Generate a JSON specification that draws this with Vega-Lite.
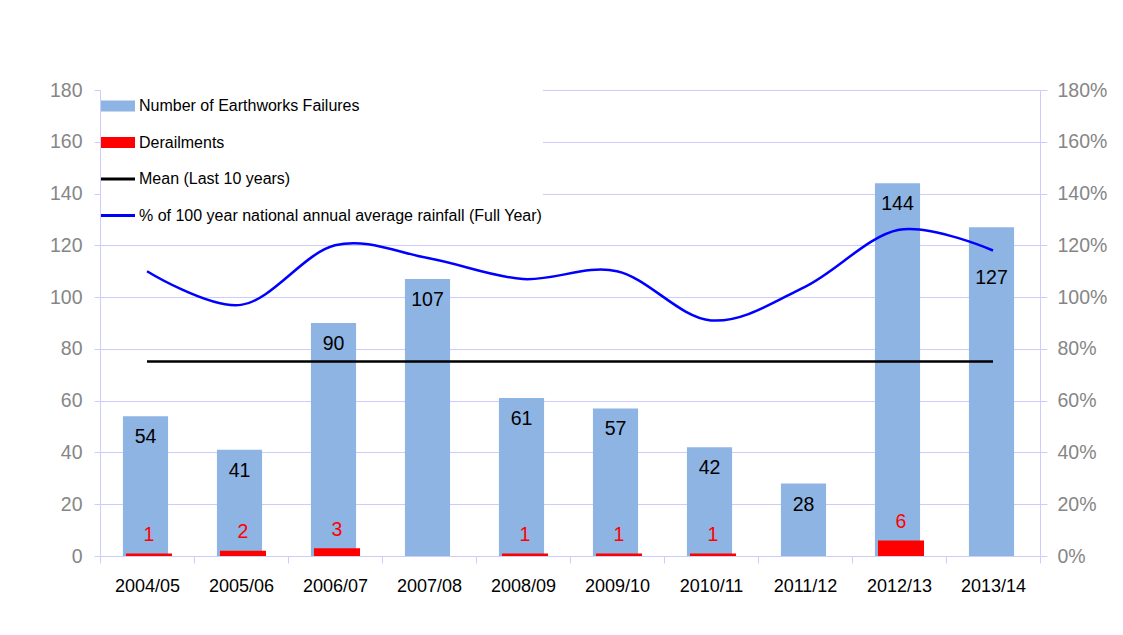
{
  "$schema": "https://vega.github.io/schema/vega-lite/v6.json",
  "autosize": {"type": "none"},
  "width": 940,
  "height": 466,
  "padding": {"left": 100, "top": 90, "right": 83, "bottom": 79},
  "background": "white",
  "config": {
    "view": {"stroke": null},
    "font": "Liberation Sans",
    "axisY": {
      "grid": true, "gridColor": "#ccccff", "domainColor": "#ccccff",
      "tickColor": "#ccccff", "tickSize": 6, "labelColor": "#868686",
      "labelFontSize": 19.5, "labelPadding": 12, "labelFont": "Liberation Sans", "title": null
    }
  },
  "data": {
    "values": [
      {"year": "2004/05", "failures": 54, "derailments": 1, "rainfall": 1.10, "mean": 75.1},
      {"year": "2005/06", "failures": 41, "derailments": 2, "rainfall": 0.97, "mean": 75.1},
      {"year": "2006/07", "failures": 90, "derailments": 3, "rainfall": 1.20, "mean": 75.1},
      {"year": "2007/08", "failures": 107, "derailments": 0, "rainfall": 1.15, "mean": 75.1},
      {"year": "2008/09", "failures": 61, "derailments": 1, "rainfall": 1.07, "mean": 75.1},
      {"year": "2009/10", "failures": 57, "derailments": 1, "rainfall": 1.10, "mean": 75.1},
      {"year": "2010/11", "failures": 42, "derailments": 1, "rainfall": 0.91, "mean": 75.1},
      {"year": "2011/12", "failures": 28, "derailments": 0, "rainfall": 1.04, "mean": 75.1},
      {"year": "2012/13", "failures": 144, "derailments": 6, "rainfall": 1.26, "mean": 75.1},
      {"year": "2013/14", "failures": 127, "derailments": 0, "rainfall": 1.18, "mean": 75.1}
    ]
  },
  "resolve": {"scale": {"y": "independent"}},
  "layer": [
    {
      "encoding": {
        "x": {
          "field": "year", "type": "ordinal",
          "scale": {"type": "band", "paddingInner": 0, "paddingOuter": 0},
          "axis": {
            "title": null, "labelAngle": 0, "tickBand": "extent",
            "domainColor": "#ccccff", "tickColor": "#ccccff", "tickSize": 7,
            "labelColor": "black", "labelFontSize": 18, "labelPadding": 14,
            "labelFont": "Liberation Sans", "grid": false
          }
        }
      },
      "layer": [
        {
          "mark": {"type": "bar", "width": {"band": 0.48}, "xOffset": -1.5},
          "encoding": {
            "y": {
              "field": "failures", "type": "quantitative",
              "scale": {"domain": [0, 180], "nice": false},
              "axis": {"title": null, "values": [0, 20, 40, 60, 80, 100, 120, 140, 160, 180]}
            },
            "color": {
              "datum": "Number of Earthworks Failures",
              "scale": {
                "domain": ["Number of Earthworks Failures", "Derailments", "Mean (Last 10 years)", "% of 100 year national annual average rainfall (Full Year)"],
                "range": ["#8eb4e3", "#ff0000", "#000000", "#0000ff"]
              },
              "legend": {
                "orient": "none", "legendX": 1, "legendY": -1, "direction": "vertical",
                "title": null, "fillColor": "white", "padding": 0, "symbolSize": 1156,
                "symbolType": "M-1,-0.32H1V0.32H-1Z", "symbolStrokeWidth": 0,
                "labelFont": "Liberation Sans", "labelFontSize": 16, "labelColor": "black",
                "labelOffset": 4, "rowPadding": 11.5, "labelLimit": 700,
                "encode": {
                  "symbols": {
                    "update": {
                      "shape": {"signal": "(datum.value === 'Mean (Last 10 years)' || indexof(datum.value, '%') === 0) ? 'M-1,-0.09H1V0.09H-1Z' : 'M-1,-0.32H1V0.32H-1Z'"},
                      "fill": {"signal": "scale('color', datum.value)"},
                      "stroke": {"value": "transparent"},
                      "opacity": {"value": 1}
                    }
                  }
                }
              }
            }
          }
        },
        {
          "mark": {"type": "bar", "width": {"band": 0.49}, "xOffset": 2},
          "encoding": {
            "y": {"field": "derailments", "type": "quantitative", "axis": {"title": null, "values": [0, 20, 40, 60, 80, 100, 120, 140, 160, 180]}},
            "color": {"datum": "Derailments"}
          }
        },
        {
          "mark": {"type": "line", "strokeWidth": 2.5},
          "encoding": {
            "y": {"field": "mean", "type": "quantitative", "axis": {"title": null, "values": [0, 20, 40, 60, 80, 100, 120, 140, 160, 180]}},
            "color": {"datum": "Mean (Last 10 years)"}
          }
        },
        {
          "transform": [{"filter": "datum.year !== '2013/14'"}],
          "mark": {"type": "text", "baseline": "middle", "dy": 21, "dx": -1.5, "fontSize": 19.5, "color": "black", "font": "Liberation Sans"},
          "encoding": {
            "y": {"field": "failures", "type": "quantitative", "axis": {"title": null, "values": [0, 20, 40, 60, 80, 100, 120, 140, 160, 180]}},
            "text": {"field": "failures", "type": "quantitative"}
          }
        },
        {
          "transform": [{"filter": "datum.year === '2013/14'"}],
          "mark": {"type": "text", "baseline": "middle", "dy": 51, "dx": -1.5, "fontSize": 19.5, "color": "black", "font": "Liberation Sans"},
          "encoding": {
            "y": {"field": "failures", "type": "quantitative", "axis": {"title": null, "values": [0, 20, 40, 60, 80, 100, 120, 140, 160, 180]}},
            "text": {"field": "failures", "type": "quantitative"}
          }
        },
        {
          "transform": [{"filter": "datum.derailments > 0"}],
          "mark": {"type": "text", "baseline": "middle", "dy": -18.5, "dx": 2, "fontSize": 19.5, "color": "#ff0000", "font": "Liberation Sans"},
          "encoding": {
            "y": {"field": "derailments", "type": "quantitative", "axis": {"title": null, "values": [0, 20, 40, 60, 80, 100, 120, 140, 160, 180]}},
            "text": {"field": "derailments", "type": "quantitative"}
          }
        }
      ]
    },
    {
      "mark": {"type": "line", "strokeWidth": 2.5, "interpolate": "cardinal"},
      "encoding": {
        "x": {"field": "year", "type": "ordinal"},
        "y": {
          "field": "rainfall", "type": "quantitative",
          "scale": {"domain": [0, 1.8], "nice": false},
          "axis": {
            "orient": "right", "title": null, "format": ".0%",
            "values": [0, 0.2, 0.4, 0.6, 0.8, 1.0, 1.2, 1.4, 1.6, 1.8],
            "grid": false, "tickSize": 7, "labelPadding": 10
          }
        },
        "color": {"datum": "% of 100 year national annual average rainfall (Full Year)"}
      }
    }
  ]
}
